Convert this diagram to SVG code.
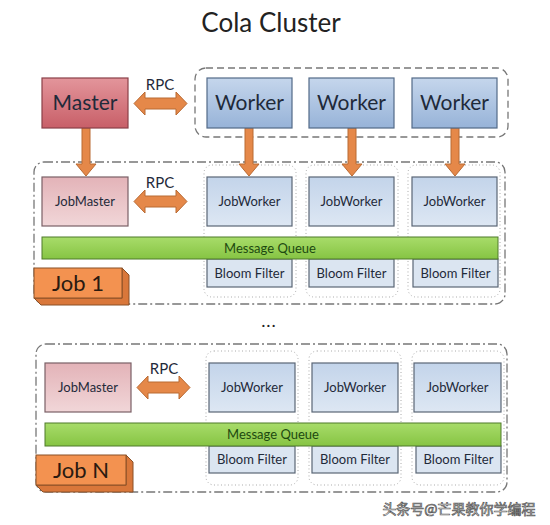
<svg xmlns="http://www.w3.org/2000/svg" width="550" height="525" viewBox="0 0 550 525">
<defs>
<linearGradient id="gMaster" x1="0" y1="0" x2="0" y2="1"><stop offset="0" stop-color="#e3959b"/><stop offset="1" stop-color="#c85f68"/></linearGradient>
<linearGradient id="gWorker" x1="0" y1="0" x2="0" y2="1"><stop offset="0" stop-color="#c5d6ec"/><stop offset="1" stop-color="#97b3d8"/></linearGradient>
<linearGradient id="gJM" x1="0" y1="0" x2="0" y2="1"><stop offset="0" stop-color="#e3b3b8"/><stop offset="1" stop-color="#f1d6d8"/></linearGradient>
<linearGradient id="gJW" x1="0" y1="0" x2="0" y2="1"><stop offset="0" stop-color="#c3d4ea"/><stop offset="1" stop-color="#dde7f3"/></linearGradient>
<linearGradient id="gMQ" x1="0" y1="0" x2="0" y2="1"><stop offset="0" stop-color="#a8dc6a"/><stop offset="1" stop-color="#86c443"/></linearGradient>
<polygon id="dbl" points="0,11.5 11,0 11,6 42,6 42,0 53,11.5 42,23 42,17 11,17 11,23"/>
<polygon id="down" points="-4,0 4,0 4,36 10,36 0,48 -10,36 -4,36"/>
</defs>
<style>
text{font-family:Lato,"Liberation Sans",sans-serif;text-anchor:middle;fill:#1f2a3a}
.t20{font-size:21px}
.t13{font-size:13px}
.master{fill:url(#gMaster);stroke:#8a4048;stroke-width:1.2}
.worker{fill:url(#gWorker);stroke:#536a88;stroke-width:1.2}
.jm{fill:url(#gJM);stroke:#7a6066;stroke-width:1.2}
.jw{fill:url(#gJW);stroke:#5a6676;stroke-width:1.2}
.bf{fill:#dbe5f1;stroke:#5a6676;stroke-width:1.2}
.mq{fill:url(#gMQ);stroke:#4f7a2a;stroke-width:1}
.arr{fill:#e58849;stroke:#b96a33;stroke-width:1}
.grp{fill:none;stroke:#777;stroke-width:1.3;stroke-dasharray:7 4}
.job{fill:none;stroke:#777;stroke-width:1.3;stroke-dasharray:9 3 2 3}
.col{fill:none;stroke:#aaa;stroke-width:1;stroke-dasharray:1 2.5}
.cubeF{fill:#f39250;stroke:#8a5026;stroke-width:1}
.cubeS{fill:#d9773a;stroke:#8a5026;stroke-width:1}
</style>
<rect width="550" height="525" fill="#ffffff"/>
<text x="271" y="32" style="font-size:26px;fill:#222">Cola Cluster</text>

<!-- groups -->
<rect class="grp" x="195" y="68" width="313" height="69" rx="11"/>
<rect class="job" x="34" y="162" width="471" height="142" rx="10"/>
<rect class="job" x="36" y="344" width="471" height="148" rx="10"/>
<g id="cols1">
<rect class="col" x="204" y="165" width="92" height="132" rx="8"/>
<rect class="col" x="306" y="165" width="92" height="132" rx="8"/>
<rect class="col" x="408" y="165" width="92" height="132" rx="8"/>
</g>
<g id="colsN">
<rect class="col" x="206" y="351" width="92" height="134" rx="8"/>
<rect class="col" x="309" y="351" width="92" height="134" rx="8"/>
<rect class="col" x="412" y="351" width="92" height="134" rx="8"/>
</g>

<g id="connectors">
<use href="#dbl" class="arr" x="134" y="92"/>
<use href="#dbl" class="arr" x="134" y="190"/>
<use href="#dbl" class="arr" x="137" y="376"/>
<use href="#down" class="arr" x="86" y="128"/>
<use href="#down" class="arr" x="249" y="128"/>
<use href="#down" class="arr" x="352" y="128"/>
<use href="#down" class="arr" x="455" y="128"/>
<text x="160" y="90" style="font-size:15px">RPC</text>
<text x="160" y="188" style="font-size:15px">RPC</text>
<text x="164" y="374" style="font-size:15px">RPC</text>
</g>

<g id="master"><rect class="master" x="42" y="78" width="86" height="50"/><text class="t20" x="85" y="110">Master</text></g>
<g id="worker1"><rect class="worker" x="207" y="78" width="85" height="50"/><text class="t20" x="249.5" y="110">Worker</text></g>
<g id="worker2"><rect class="worker" x="309" y="78" width="85" height="50"/><text class="t20" x="351.5" y="110">Worker</text></g>
<g id="worker3"><rect class="worker" x="412" y="78" width="85" height="50"/><text class="t20" x="454.5" y="110">Worker</text></g>

<g id="jobmaster1"><rect class="jm" x="42" y="177" width="86" height="49"/><text class="t13" x="85" y="206">JobMaster</text></g>
<g id="jobworker1a"><rect class="jw" x="207" y="177" width="85" height="49"/><text class="t13" x="249.5" y="206">JobWorker</text></g>
<g id="jobworker1b"><rect class="jw" x="309" y="177" width="85" height="49"/><text class="t13" x="351.5" y="206">JobWorker</text></g>
<g id="jobworker1c"><rect class="jw" x="412" y="177" width="85" height="49"/><text class="t13" x="454.5" y="206">JobWorker</text></g>
<g id="bloom1a"><rect class="bf" x="207" y="259" width="85" height="28"/><text class="t13" x="249.5" y="278">Bloom Filter</text></g>
<g id="bloom1b"><rect class="bf" x="309" y="259" width="85" height="28"/><text class="t13" x="351.5" y="278">Bloom Filter</text></g>
<g id="bloom1c"><rect class="bf" x="413" y="259" width="85" height="28"/><text class="t13" x="455.5" y="278">Bloom Filter</text></g>
<g id="mq1"><rect class="mq" x="42" y="237" width="456" height="22"/><text x="270" y="252.5" style="font-size:13px;fill:#1d4a10">Message Queue</text></g>
<g id="job1">
<polygon class="cubeS" points="122,268 129,275 129,305 41,305 34,298 122,298"/>
<rect class="cubeF" x="34" y="268" width="88" height="30"/>
<text x="78" y="291" style="font-size:22px;fill:#2a1a10">Job 1</text>
</g>

<text x="269" y="327" style="font-size:18px;fill:#222;letter-spacing:1px">...</text>

<g id="jobmasterN"><rect class="jm" x="45" y="363" width="86" height="49"/><text class="t13" x="88" y="392">JobMaster</text></g>
<g id="jobworkerNa"><rect class="jw" x="209" y="363" width="86" height="49"/><text class="t13" x="252" y="392">JobWorker</text></g>
<g id="jobworkerNb"><rect class="jw" x="312" y="363" width="86" height="49"/><text class="t13" x="355" y="392">JobWorker</text></g>
<g id="jobworkerNc"><rect class="jw" x="414" y="363" width="87" height="49"/><text class="t13" x="457.5" y="392">JobWorker</text></g>
<g id="bloomNa"><rect class="bf" x="209" y="446" width="86" height="27"/><text class="t13" x="252" y="464">Bloom Filter</text></g>
<g id="bloomNb"><rect class="bf" x="312" y="446" width="86" height="27"/><text class="t13" x="355" y="464">Bloom Filter</text></g>
<g id="bloomNc"><rect class="bf" x="416" y="446" width="85" height="27"/><text class="t13" x="458.5" y="464">Bloom Filter</text></g>
<g id="mqN"><rect class="mq" x="45" y="423" width="456" height="23"/><text x="273" y="439" style="font-size:13px;fill:#1d4a10">Message Queue</text></g>
<g id="jobN">
<polygon class="cubeS" points="126,455 133,462 133,492 43,492 36,485 126,485"/>
<rect class="cubeF" x="36" y="455" width="90" height="30"/>
<text x="81" y="478" style="font-size:22px;fill:#2a1a10">Job N</text>
</g>

<text x="459" y="514" style="font-family:'Noto Sans CJK SC',sans-serif;font-size:14px;fill:#ffffff;stroke:#555;stroke-width:0.7">头条号@芒果教你学编程</text>
</svg>
